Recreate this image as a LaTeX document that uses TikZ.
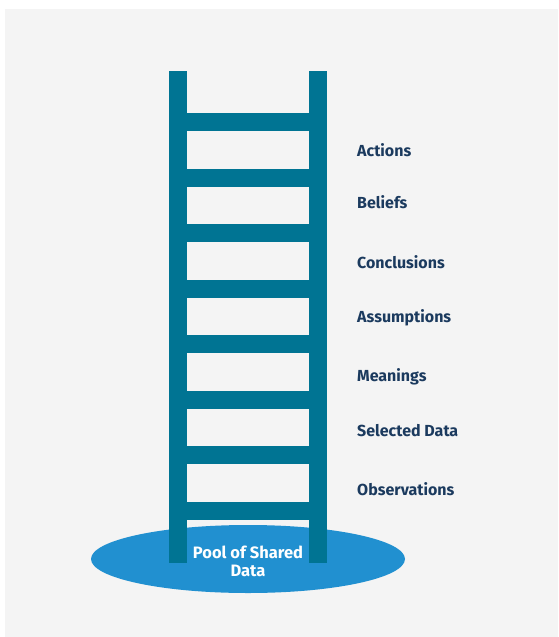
\documentclass[tikz,border=0pt]{standalone}
\usepackage{fontspec}
\setmainfont{Fira Sans}
\usepackage{xcolor}
\definecolor{cPage}{HTML}{F4F4F4}
\definecolor{cLadder}{HTML}{007493}
\definecolor{cPool}{HTML}{2190D0}
\definecolor{cText}{HTML}{1B3A5E}
\usetikzlibrary{shapes.geometric}
\tikzset{
  ladder-part/.style={fill=cLadder,draw=none},
  rung-label/.style={anchor=base west,inner sep=0pt,text=cText,
    font=\fontsize{16}{18}\selectfont\bfseries},
  pool/.style={ellipse,fill=cPool,draw=none,inner sep=0pt,
    minimum width=314pt,minimum height=68pt},
}

\begin{document}
\begin{tikzpicture}[x=1pt,y=-1pt]
  % page and panel
  \fill[white] (0,0) rectangle (558,637);
  \fill[cPage] (5,9) rectangle (558,637);
  \useasboundingbox (0,0) rectangle (558,637);
  % pool under the ladder
  \node[pool] (pool) at (248,559) {};
  % rails
  \fill[ladder-part] (169,71) rectangle (187,563);
  \fill[ladder-part] (309,71) rectangle (327,563);
  % rungs
  \foreach \i in {0,...,7}
    \fill[ladder-part] (186,113.3+55.5*\i) rectangle (310,131.3+55.5*\i);
  % labels
  \node[rung-label] (actions) at (357,156) {Actions};
  \node[rung-label] (beliefs) at (357,208.3) {Beliefs};
  \node[rung-label] (conclusions) at (357,268.3) {Conclusions};
  \node[rung-label] (assumptions) at (357,322.7) {Assumptions};
  \node[rung-label] (meanings) at (357,381.7) {Meanings};
  \node[rung-label] (selected) at (357,436) {Selected Data};
  \node[rung-label] (observations) at (357,495) {Observations};
  \node[align=center,text=white,inner sep=0pt,
    font=\fontsize{16.5}{18}\selectfont\bfseries] (pool-text) at (248,561) {Pool of Shared\\Data};
\end{tikzpicture}
\end{document}
